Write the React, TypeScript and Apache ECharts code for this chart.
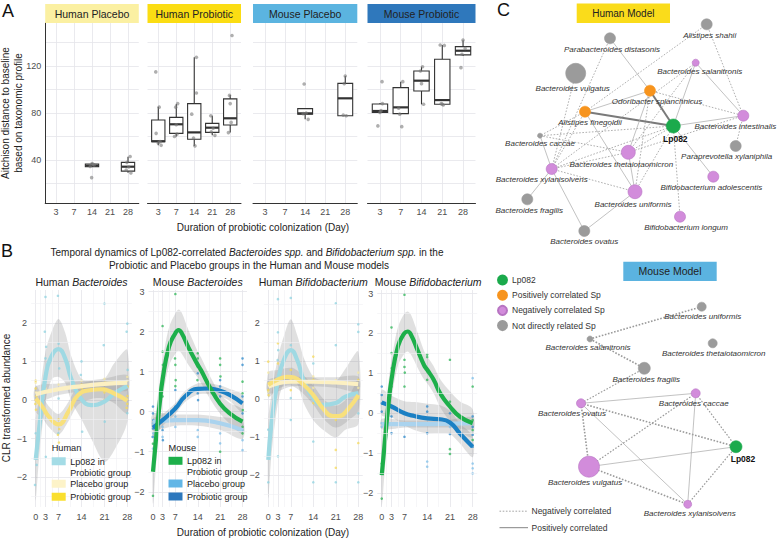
import React, { useEffect, useRef } from 'react';
import * as echarts from 'echarts';

const FONT = '"Liberation Sans", Arial, Helvetica, sans-serif';
const TXT = '#222';
const TICK = '#4D4D4D';
const GRIDC = '#E4E4EA';
const MINORC = '#F0F0F4';

// ================= Panel A data =================
const dayLabelsA = ['3', '7', '14', '21', '28'];
const facetsA = ['Human Placebo', 'Human Probiotic', 'Mouse Placebo', 'Mouse Probiotic'];
// [dayIndex, min, q1, median, q3, max]
const boxesHumanPlacebo = [
  [2, 34.0, 34.3, 35.2, 36.6, 37.5],
  [4, 29.2, 30.5, 34.3, 38.0, 42.8],
];
const boxesHumanProbiotic = [
  [0, 52.5, 55.6, 56.0, 74.0, 85.4],
  [1, 60.0, 62.7, 70.4, 76.3, 87.7],
  [2, 52.0, 57.6, 63.5, 88.0, 127.4],
  [3, 61.0, 63.5, 67.5, 71.2, 77.7],
  [4, 63.3, 69.8, 75.5, 92.0, 95.3],
];
const boxesMousePlacebo = [
  [2, 74.6, 78.9, 79.7, 83.7, 83.7],
  [4, 77.7, 77.7, 92.5, 105.2, 111.5],
];
const boxesMouseProbiotic = [
  [0, 79.7, 80.5, 81.7, 87.7, 88.5],
  [1, 78.9, 79.5, 84.8, 101.6, 106.7],
  [2, 87.4, 98.7, 107.5, 115.7, 119.4],
  [3, 86.8, 87.5, 91.0, 125.7, 137.9],
  [4, 128.5, 129.5, 133.0, 136.5, 142.0],
];
// jittered observations [dayIndex + jitter, distance]
const ptsHumanPlacebo = [[2.0, 37.0], [2.12, 35.8], [1.9, 34.6], [2.06, 36.4], [1.98, 25.0], [4.12, 43.0], [3.94, 38.0], [4.04, 34.0], [3.9, 31.5], [4.16, 29.0]];
const ptsHumanProbiotic = [[-0.14, 115], [0.05, 85], [-0.12, 62.7], [0.1, 55.6], [0.16, 52.5], [0.0, 54.5], [1.08, 88], [0.97, 85], [1.04, 62], [0.9, 60], [1.0, 70], [2.12, 127.4], [2.12, 97], [1.86, 79], [1.96, 58.7], [2.04, 52], [2.92, 77.7], [3.05, 67], [3.15, 61], [2.95, 64], [4.1, 146], [3.96, 95], [4.0, 88], [3.9, 63.3], [4.05, 72]];
const ptsMousePlacebo = [[1.95, 104.7], [2.05, 80], [2.15, 74.6], [1.9, 79.5], [4.0, 111.5], [3.95, 105], [4.05, 77.7], [3.9, 78.2]];
const ptsMouseProbiotic = [[0.1, 106.7], [-0.1, 69], [0.05, 82], [0.0, 80.5], [0.12, 88], [1.1, 106.7], [1.05, 68.4], [0.95, 79], [0.9, 84], [2.05, 119.4], [1.95, 115.7], [2.1, 87.4], [2.0, 105], [2.9, 137.9], [3.1, 137.5], [3.05, 86.8], [2.95, 88], [3.0, 87.5], [4.0, 142], [3.9, 118.6], [4.1, 135], [3.95, 130]];
const boxesA = [boxesHumanPlacebo, boxesHumanProbiotic, boxesMousePlacebo, boxesMouseProbiotic];
const ptsA = [ptsHumanPlacebo, ptsHumanProbiotic, ptsMousePlacebo, ptsMouseProbiotic];

// ================= Panel B data =================
const dayTicksB = [0, 3, 7, 14, 21, 28];
const dayMinorB = [1.5, 5, 10.5, 17.5, 24.5];
const clrMinorB = [-2.5, -1.5, -0.5, 0.5, 1.5, 2.5];
// Human Bacteroides
const hbLpDays = [0, 1, 3, 5, 7, 9, 11, 14, 17, 21, 24, 28];
const hbLpMid = [-1.55, -0.78, 0.6, 1.16, 1.32, 1.08, 0.52, 0.02, -0.13, -0.04, 0.17, 0.36];
const hbLpLo = [-2.6, -1.55, -0.05, 0.55, 0.6, 0.45, -0.05, -0.5, -1.0, -1.6, -1.3, -0.55];
const hbLpHi = [-0.5, 0.0, 1.25, 1.8, 2.1, 1.75, 1.1, 0.55, 0.5, 0.55, 0.95, 1.3];
const hbPlDays = [0, 7, 14, 21, 28];
const hbPlMid = [0.15, 0.28, 0.36, 0.42, 0.45];
const hbPlLo = [-0.05, 0.13, 0.23, 0.28, 0.25];
const hbPlHi = [0.35, 0.43, 0.49, 0.56, 0.65];
const hbPrDays = [0, 2, 4, 7, 10, 13, 17, 20, 24, 28];
const hbPrMid = [0.04, -0.17, -0.43, -0.63, -0.3, 0.13, 0.26, 0.28, 0.17, -0.02];
const hbPrLo = [-0.3, -0.45, -0.7, -0.9, -0.55, -0.12, 0.03, 0.05, -0.08, -0.35];
const hbPrHi = [0.38, 0.11, -0.16, -0.36, -0.05, 0.38, 0.49, 0.51, 0.42, 0.31];
const hbLpPts = [[0, -0.86], [0.3, -1.68], [-0.2, -2.2], [3, 2.67], [2.8, 1.77], [3.2, 1.38], [3, 1.08], [2.9, 0.52], [3.1, -1.47], [6.8, 2.7], [7, 1.46], [7.2, 0.82], [7, 0.04], [6.9, -0.86], [14, 1.0], [13.8, 0.65], [14.2, -0.82], [21, 2.5], [20.8, 1.42], [21.1, -0.56], [28, 1.98], [27.8, 1.77], [28.1, 0.78], [28, -0.34]];
const hbPrPts = [[0, 0.3], [0.2, 0.1], [-0.1, -0.1], [0.1, -0.25], [0, 0.5], [7, -0.5], [6.8, -0.9], [7.1, -1.1], [7.2, -0.75], [14, 0.4], [13.8, 0.1], [14.1, 0.3], [21, 0.2], [21.2, 0.45], [20.9, 0.3], [21, 0], [28, 0.1], [27.8, -0.2], [28.1, 0.35], [28, -0.1]];
const hbPlPts = [[0, 0.45], [0.1, 0.2], [3, 0.3], [7, 0.4], [14, 0.5], [21, 0.55], [28, 0.6], [28, 0.5]];
// Mouse Bacteroides
const mbLpDays = [0, 1, 2, 3, 5, 7, 8, 9, 11, 14, 15, 18, 21, 24, 28];
const mbLpMid = [-1.5, -0.63, 0.13, 0.8, 1.62, 1.96, 2.04, 1.96, 1.62, 1.17, 1.04, 0.58, 0.2, -0.04, -0.25];
const mbLpLo = [-2.3, -1.3, -0.45, 0.3, 1.15, 1.45, 1.52, 1.45, 1.18, 0.85, 0.72, 0.3, -0.05, -0.3, -0.55];
const mbLpHi = [-0.7, 0.05, 0.7, 1.3, 2.1, 2.45, 2.55, 2.47, 2.06, 1.5, 1.36, 0.86, 0.45, 0.22, 0.05];
const mbPrDays = [0, 3, 7, 10, 14, 17, 21, 24, 28];
const mbPrMid = [-0.4, -0.21, 0.08, 0.38, 0.57, 0.58, 0.52, 0.42, 0.21];
const mbPrLo = [-0.62, -0.36, -0.06, 0.24, 0.43, 0.44, 0.38, 0.27, -0.01];
const mbPrHi = [-0.18, -0.06, 0.22, 0.52, 0.71, 0.72, 0.66, 0.57, 0.43];
const mbPlDays = [0, 7, 14, 21, 28];
const mbPlMid = [-0.25, -0.21, -0.21, -0.29, -0.46];
const mbPlLo = [-0.45, -0.35, -0.35, -0.45, -0.68];
const mbPlHi = [-0.05, -0.07, -0.07, -0.13, -0.24];
const mbLpPts = [[7, 2.94], [3, 2.14], [3, 1.5], [3.1, 1.17], [6.9, 1.33], [7, 1.17], [7.1, 0.79], [7, 0.64], [14, 1.46], [14, 1.33], [14.1, 1.13], [13.9, 0.79], [21, 1.33], [21, 1.17], [21.1, 0.88], [21, 0.54], [21, -1.0], [28, 0.75], [28, 0.46], [28.1, 0.04], [28, -0.38], [28, -0.54], [0, -2.1], [0.1, -1.38], [3, 0.38], [0, -0.8]];
const mbPrPts = [[0, 0.13], [0, -0.04], [0.1, -0.21], [0, -0.42], [-0.1, -0.63], [3, -0.21], [3, -0.46], [3.1, -0.71], [7, 0.54], [7, 0.13], [14, 1.2], [14, 0.96], [14, 0.46], [14.1, 0.29], [21, 0.79], [21, 0.63], [21, 0.38], [28, 1.33], [28, 1.17], [28, 0.38], [28, -0.04]];
const mbPlPts = [[0, -0.29], [0.1, -0.54], [0, -0.92], [3, -0.38], [3, -0.63], [7, -0.12], [7, -0.38], [14, -0.21], [14, -0.46], [14, -0.63], [21, -0.29], [21, -0.54], [21, -0.79], [28, -0.46], [28, -0.71], [28, -0.96]];
// Human Bifidobacterium
const hfLpDays = [0, 1, 3, 5, 7, 9, 11, 14, 17, 21, 24, 28];
const hfLpMid = [-1.59, -0.63, 0.5, 1.07, 1.29, 1.03, 0.5, 0.03, -0.15, -0.1, 0.07, 0.16];
const hfLpLo = [-2.6, -1.45, -0.1, 0.45, 0.5, 0.4, -0.1, -0.55, -0.8, -1.0, -0.8, -0.65];
const hfLpHi = [-0.55, 0.15, 1.1, 1.7, 2.1, 1.68, 1.1, 0.6, 0.5, 0.48, 0.8, 1.25];
const hfPlDays = [0, 7, 14, 21, 28];
const hfPlMid = [0.33, 0.46, 0.46, 0.44, 0.4];
const hfPlLo = [0.15, 0.33, 0.34, 0.3, 0.2];
const hfPlHi = [0.51, 0.59, 0.58, 0.58, 0.6];
const hfPrDays = [0, 3, 6, 8, 11, 14, 17, 20, 22, 25, 28];
const hfPrMid = [0.38, 0.52, 0.59, 0.57, 0.38, 0.11, -0.24, -0.44, -0.44, -0.24, 0.11];
const hfPrLo = [0.05, 0.27, 0.36, 0.33, 0.14, -0.14, -0.5, -0.72, -0.73, -0.55, -0.3];
const hfPrHi = [0.71, 0.77, 0.82, 0.81, 0.62, 0.36, 0.02, -0.16, -0.15, 0.07, 0.52];
const hfLpPts = [[3, 2.63], [7, 2.66], [21, 2.52], [28, 1.97], [28, 1.77], [3, 1.76], [3.1, 1.29], [21, 1.42], [7, 1.42], [14, 0.94], [2.9, 1.03], [7, 0.03], [7, -0.54], [14, -1.11], [21, -2.18], [14, -2.18], [28, -2.18], [28, -0.37], [3, -1.5], [0, -2.18], [0, -0.8]];
const hfPrPts = [[0, 0.99], [0, 0.24], [0.1, 0.11], [3, 1.47], [3, 0.94], [3.1, 0.59], [7, 0.77], [7, 0.51], [7, 0.24], [14, 1.12], [14, 0.51], [14, -0.1], [21, -0.54], [21, -1.33], [21, -1.8], [28, -1.15], [28, 0.03], [28, 0.51]];
const hfPlPts = [[0, 0.7], [0, 0.2], [3, 0.4], [7, 0.5], [14, 0.6], [14, 0.3], [21, 0.5], [28, 0.3], [28, 0.7]];
// Mouse Bifidobacterium
const mfLpDays = [0, 1, 2, 3, 5, 7, 8, 9, 11, 13, 14, 16, 18, 21, 24, 28];
const mfLpMid = [-1.55, -0.67, 0.17, 0.84, 1.68, 2.01, 2.05, 1.97, 1.59, 1.21, 1.09, 0.84, 0.5, 0.17, -0.08, -0.25];
const mfLpLo = [-2.35, -1.35, -0.4, 0.35, 1.2, 1.5, 1.55, 1.47, 1.15, 0.85, 0.75, 0.5, 0.15, -0.2, -0.45, -0.6];
const mfLpHi = [-0.75, 0.0, 0.74, 1.33, 2.16, 2.5, 2.55, 2.47, 2.03, 1.57, 1.43, 1.18, 0.85, 0.55, 0.3, 0.1];
const mfPrDays = [0, 3, 7, 10, 14, 18, 21, 24, 28];
const mfPrMid = [0.27, 0.17, 0, -0.07, -0.13, -0.15, -0.23, -0.5, -0.84];
const mfPrLo = [-0.05, -0.1, -0.3, -0.42, -0.5, -0.5, -0.52, -0.75, -1.1];
const mfPrHi = [0.59, 0.44, 0.3, 0.28, 0.24, 0.2, 0.06, -0.25, -0.58];
const mfPlDays = [0, 7, 14, 21, 28];
const mfPlMid = [-0.27, -0.27, -0.27, -0.26, -0.25];
const mfPlLo = [-0.4, -0.36, -0.36, -0.36, -0.4];
const mfPlHi = [-0.14, -0.18, -0.18, -0.16, -0.1];
const mfLpPts = [[7, 2.97], [3, 2.15], [3, 1.51], [3.1, 1.13], [7, 1.34], [7, 1.16], [7.1, 1.02], [7, 0.67], [14, 1.47], [14, 1.41], [14, 0.84], [21, 1.34], [21, 0.29], [21, 0.17], [21, -0.9], [21, -1.02], [28, 0.67], [28, -0.17], [28, -0.42], [28, -0.67], [0, -2.14], [0, -1.26], [3, 0.67]];
const mfPrPts = [[0, 0.67], [0, 0.46], [0, 0.25], [0, 0.04], [3, 0.17], [3, -0.08], [3, -0.5], [7, 0], [7, -0.25], [7, -0.59], [14, 0.17], [14, 0.04], [14, -0.5], [21, 0], [21, -0.25], [21, -0.52], [28, -0.08], [28, -0.34], [28, -0.54], [28, -0.84]];
const mfPlPts = [[0, -0.25], [0, -0.34], [3, -0.25], [7, -0.29], [14, -1.21], [14, -1.34], [21, -0.34], [28, -1.26], [28, -1.38], [28, -1.51], [28, 0.88]];

// ================= Panel C data =================
const nodeTypes = ['Lp082', 'Positively correlated Sp', 'Negatively correlated Sp', 'Not directly related Sp'];
const humanNodeNames = ['Alistipes shahii', 'Parabacteroides distasonis', 'Bacteroides vulgatus', 'Bacteroides salanitronis', 'Odoribacter splanchnicus', 'Alistipes finegoldii', 'Lp082', 'Bacteroides intestinalis', 'Bacteroides caccae', 'Paraprevotella xylaniphila', 'Bacteroides thetaiotaomicron', 'Bacteroides xylanisolvens', 'Bifidobacterium adolescentis', 'Bacteroides uniformis', 'Bacteroides fragilis', 'Bifidobacterium longum', 'Bacteroides ovatus'];
const humanNodeType = [3, 3, 3, 2, 1, 1, 0, 2, 3, 3, 2, 2, 2, 2, 3, 2, 3];
const humanNodeAbund = [11, 11, 20, 7, 11, 11, 14, 11, 5, 11, 14, 11, 11, 14, 11, 11, 11];
// [source, target, sign(+1/-1), strength]
const humanEdges: [string, string, number, number][] = [
  ['Alistipes finegoldii', 'Lp082', 1, 2],
  ['Odoribacter splanchnicus', 'Lp082', 1, 2],
  ['Alistipes shahii', 'Alistipes finegoldii', -1, 0.8],
  ['Alistipes shahii', 'Bacteroides intestinalis', -1, 0.8],
  ['Parabacteroides distasonis', 'Odoribacter splanchnicus', 1, 0.7],
  ['Parabacteroides distasonis', 'Bacteroides xylanisolvens', -1, 0.8],
  ['Bacteroides vulgatus', 'Bacteroides xylanisolvens', -1, 0.8],
  ['Bacteroides salanitronis', 'Lp082', 1, 0.7],
  ['Bacteroides salanitronis', 'Bacteroides intestinalis', 1, 0.7],
  ['Bacteroides salanitronis', 'Bacteroides thetaiotaomicron', -1, 0.8],
  ['Bacteroides salanitronis', 'Bacteroides xylanisolvens', -1, 0.8],
  ['Odoribacter splanchnicus', 'Alistipes finegoldii', 1, 0.7],
  ['Odoribacter splanchnicus', 'Bacteroides intestinalis', -1, 0.8],
  ['Odoribacter splanchnicus', 'Bacteroides thetaiotaomicron', 1, 0.7],
  ['Odoribacter splanchnicus', 'Bacteroides uniformis', -1, 0.8],
  ['Alistipes finegoldii', 'Bacteroides caccae', -1, 0.8],
  ['Alistipes finegoldii', 'Bacteroides xylanisolvens', -1, 0.8],
  ['Alistipes finegoldii', 'Bacteroides uniformis', 1, 0.7],
  ['Lp082', 'Bacteroides intestinalis', 1, 0.7],
  ['Lp082', 'Bacteroides thetaiotaomicron', -1, 0.8],
  ['Lp082', 'Bacteroides uniformis', -1, 0.8],
  ['Lp082', 'Bacteroides xylanisolvens', -1, 0.8],
  ['Lp082', 'Bifidobacterium longum', -1, 0.8],
  ['Lp082', 'Bacteroides caccae', -1, 0.8],
  ['Lp082', 'Bifidobacterium adolescentis', 1, 0.7],
  ['Bacteroides intestinalis', 'Paraprevotella xylaniphila', -1, 0.8],
  ['Bacteroides intestinalis', 'Bacteroides thetaiotaomicron', -1, 0.8],
  ['Bacteroides caccae', 'Bacteroides thetaiotaomicron', -1, 0.8],
  ['Bacteroides caccae', 'Bacteroides xylanisolvens', 1, 0.7],
  ['Bacteroides thetaiotaomicron', 'Bacteroides xylanisolvens', -1, 0.8],
  ['Bacteroides thetaiotaomicron', 'Bacteroides uniformis', 1, 0.7],
  ['Bacteroides xylanisolvens', 'Bacteroides uniformis', -1, 0.8],
  ['Bacteroides xylanisolvens', 'Bacteroides fragilis', 1, 0.7],
  ['Bacteroides xylanisolvens', 'Bacteroides ovatus', 1, 0.7],
  ['Bacteroides uniformis', 'Bacteroides ovatus', 1, 0.7],
];
const mouseNodeNames = ['Bacteroides uniformis', 'Bacteroides salanitronis', 'Bacteroides thetaiotaomicron', 'Bacteroides fragilis', 'Bacteroides caccae', 'Bacteroides ovatus', 'Lp082', 'Bacteroides vulgatus', 'Bacteroides xylanisolvens'];
const mouseNodeType = [3, 3, 3, 3, 2, 2, 0, 2, 2];
const mouseNodeAbund = [9, 6, 9, 12, 9, 9, 12, 21, 8];
const mouseEdges: [string, string, number, number][] = [
  ['Bacteroides uniformis', 'Bacteroides salanitronis', -1, 1.6],
  ['Bacteroides salanitronis', 'Bacteroides fragilis', -1, 1.6],
  ['Bacteroides fragilis', 'Bacteroides ovatus', -1, 1.1],
  ['Bacteroides ovatus', 'Bacteroides caccae', 1, 0.7],
  ['Bacteroides ovatus', 'Lp082', -1, 1.6],
  ['Bacteroides ovatus', 'Bacteroides vulgatus', -1, 1.6],
  ['Bacteroides ovatus', 'Bacteroides xylanisolvens', 1, 0.7],
  ['Bacteroides caccae', 'Bacteroides vulgatus', -1, 1.2],
  ['Bacteroides caccae', 'Lp082', -1, 1.2],
  ['Bacteroides caccae', 'Bacteroides xylanisolvens', 1, 0.7],
  ['Bacteroides vulgatus', 'Lp082', 1, 0.7],
  ['Bacteroides vulgatus', 'Bacteroides xylanisolvens', -1, 1.6],
  ['Bacteroides xylanisolvens', 'Lp082', -1, 1.2],
];

// ================= layout (not data) =================
const A_X = [[45.2, 138.8], [147.5, 241], [253, 357.3], [367.5, 475.5]];
const A_TOP = 23, A_H = 180;
const B_X = [[31.1, 131.9], [148.5, 247], [263.8, 362.8], [377.2, 477.2]];
const B_TOP = 290, B_H = 217;
const B_YR = [[-2.77, 2.85], [-2.38, 3.04], [-2.83, 2.87], [-2.35, 3.09]];
const STRIP_A = ['#FBF0A2', '#FBDD13', '#5BB4E0', '#2F78BC'];
const NODE_COL = ['#1BAA4C', '#F7941E', '#D28CDB', '#9B9B9B'];
const humanLayout = [[706.7, 24.3], [610, 38.3], [575.7, 73.3], [695.7, 62.7], [650, 90.7], [585, 111.7], [673.3, 126], [743.3, 115.7], [540, 135.7], [735.7, 146], [628.3, 152.3], [551.7, 169], [713.3, 176.7], [635, 191.7], [527.3, 199.3], [680, 216.7], [584.3, 231]];
const humanLabelDx = [3, 2, -3, 4, 7, 5, 2, -8, 0, -9, -7, -10, -2, -2, 2, 6, 0];
const mouseLayout = [[701.7, 306.7], [590, 339], [712.7, 343.3], [644.3, 368.3], [695.7, 393.3], [581, 403.3], [736, 446.7], [589, 466.7], [687.7, 504.3]];
const mouseLabelDx = [1, -2, 1, 2, -2, -9, 7, -4, 2];

const minus = (v: number) => (v < 0 ? '\u2212' + Math.abs(v) : String(v));

function renderBox(params: any, api: any) {
  const x = api.value(0);
  const lo = api.coord([x, api.value(1)]);
  const q1 = api.coord([x, api.value(2)]);
  const md = api.coord([x, api.value(3)]);
  const q3 = api.coord([x, api.value(4)]);
  const hi = api.coord([x, api.value(5)]);
  const hw = api.size([1, 0])[0] * 0.37;
  const st = { stroke: '#333', lineWidth: 1.1, fill: null };
  return {
    type: 'group',
    children: [
      { type: 'line', shape: { x1: lo[0], y1: lo[1], x2: q1[0], y2: q1[1] }, style: st },
      { type: 'line', shape: { x1: q3[0], y1: q3[1], x2: hi[0], y2: hi[1] }, style: st },
      { type: 'rect', shape: { x: q1[0] - hw, y: q3[1], width: 2 * hw, height: q1[1] - q3[1] }, style: { stroke: '#333', lineWidth: 1.1, fill: '#fff' } },
      { type: 'line', shape: { x1: md[0] - hw, y1: md[1], x2: md[0] + hw, y2: md[1] }, style: { stroke: '#333', lineWidth: 2.2 } },
    ],
  };
}

// confidence ribbon: one smoothed polygon built from all rows [day, lo, hi]
function makeRibbonRender(rows: number[][]) {
  return (params: any, api: any) => {
    if (params.dataIndex !== 0) return null;
    const top = rows.map((r) => api.coord([r[0], r[2]]));
    const bot = rows.map((r) => api.coord([r[0], r[1]])).reverse();
    return {
      type: 'polygon',
      shape: { points: top.concat(bot), smooth: 0.3 },
      style: { fill: '#8C8C8C', opacity: 0.27 },
    };
  };
}

function buildOption() {
  const grid: any[] = [];
  const xAxis: any[] = [];
  const yAxis: any[] = [];
  const series: any[] = [];
  const graphic: any[] = [];

  // ---------- Panel A ----------
  A_X.forEach(([l, r], i) => {
    grid.push({ left: l, top: A_TOP, width: r - l, height: A_H, containLabel: false });
    xAxis.push({
      type: 'value', gridIndex: i, min: -0.6, max: 4.6,
      axisLine: { show: true, onZero: false, lineStyle: { color: '#333', width: 1 } },
      axisTick: { show: false, customValues: [0, 1, 2, 3, 4] },
      axisLabel: { customValues: [0, 1, 2, 3, 4], formatter: (v: number) => dayLabelsA[Math.round(v)], fontSize: 9, color: TICK, margin: 4, fontFamily: FONT },
      splitLine: { show: true, lineStyle: { color: GRIDC, width: 0.8 } },
    });
    yAxis.push({
      type: 'value', gridIndex: i, min: 3.4, max: 156.6, minInterval: 20, maxInterval: 20,
      axisLine: { show: i === 0, onZero: false, lineStyle: { color: '#333', width: 1 } },
      axisTick: { show: false },
      axisLabel: { show: i === 0, formatter: (v: number) => (Math.abs(v % 40) < 1e-6 && v > 0 ? String(v) : ''), fontSize: 9, color: TICK, margin: 4, fontFamily: FONT },
      splitLine: { show: true, showMinLine: false, showMaxLine: false, lineStyle: { color: GRIDC, width: 0.8 } },
    });
    series.push({
      type: 'custom', name: facetsA[i] + ' box', xAxisIndex: i, yAxisIndex: i,
      renderItem: renderBox, data: boxesA[i], encode: { x: 0, y: [1, 2, 3, 4, 5] }, silent: true, z: 2,
    });
    series.push({
      type: 'scatter', name: facetsA[i] + ' samples', xAxisIndex: i, yAxisIndex: i, data: ptsA[i],
      symbolSize: 3.6, itemStyle: { color: '#7A7A7A', opacity: 0.6 }, silent: true, z: 3,
    });
    graphic.push({ type: 'rect', shape: { x: l, y: 4, width: r - l, height: 19 }, style: { fill: STRIP_A[i] } });
    graphic.push({ type: 'text', x: (l + r) / 2, y: 13.5, style: { text: facetsA[i], fontSize: 10.5, fontFamily: FONT, fill: TXT, align: 'center', verticalAlign: 'middle' } });
  });

  // ---------- Panel B ----------
  const groupsB: any[][] = [
    [
      { days: hbLpDays, mid: hbLpMid, lo: hbLpLo, hi: hbLpHi, pts: hbLpPts, line: '#9FD9E3', pt: '#8FD3E0' },
      { days: hbPlDays, mid: hbPlMid, lo: hbPlLo, hi: hbPlHi, pts: hbPlPts, line: '#FCF0C2', pt: '#F6E9A8' },
      { days: hbPrDays, mid: hbPrMid, lo: hbPrLo, hi: hbPrHi, pts: hbPrPts, line: '#F8E07C', pt: '#F5DA5A' },
    ],
    [
      { days: mbPlDays, mid: mbPlMid, lo: mbPlLo, hi: mbPlHi, pts: mbPlPts, line: '#AAD3EE', pt: '#7DBFE8' },
      { days: mbPrDays, mid: mbPrMid, lo: mbPrLo, hi: mbPrHi, pts: mbPrPts, line: '#1B80C4', pt: '#2D8ACB' },
      { days: mbLpDays, mid: mbLpMid, lo: mbLpLo, hi: mbLpHi, pts: mbLpPts, line: '#1DAF4A', pt: '#2DB557' },
    ],
    [
      { days: hfLpDays, mid: hfLpMid, lo: hfLpLo, hi: hfLpHi, pts: hfLpPts, line: '#9FD9E3', pt: '#8FD3E0' },
      { days: hfPlDays, mid: hfPlMid, lo: hfPlLo, hi: hfPlHi, pts: hfPlPts, line: '#FCF0C2', pt: '#F6E9A8' },
      { days: hfPrDays, mid: hfPrMid, lo: hfPrLo, hi: hfPrHi, pts: hfPrPts, line: '#F8E07C', pt: '#F5DA5A' },
    ],
    [
      { days: mfPlDays, mid: mfPlMid, lo: mfPlLo, hi: mfPlHi, pts: mfPlPts, line: '#AAD3EE', pt: '#7DBFE8' },
      { days: mfPrDays, mid: mfPrMid, lo: mfPrLo, hi: mfPrHi, pts: mfPrPts, line: '#1B80C4', pt: '#2D8ACB' },
      { days: mfLpDays, mid: mfLpMid, lo: mfLpLo, hi: mfLpHi, pts: mfLpPts, line: '#1DAF4A', pt: '#2DB557' },
    ],
  ];
  const facetTitlesB = [
    'Human {i|Bacteroides}', 'Mouse {i|Bacteroides}', 'Human {i|Bifidobacterium}', 'Mouse {i|Bifidobacterium}',
  ];
  B_X.forEach(([l, r], f) => {
    const gi = 4 + f;
    grid.push({ left: l, top: B_TOP, width: r - l, height: B_H, containLabel: false });
    xAxis.push({
      type: 'value', gridIndex: gi, min: -1.4, max: 29.4,
      axisLine: { show: false, onZero: false },
      axisTick: { show: false, customValues: dayTicksB },
      axisLabel: { customValues: dayTicksB, fontSize: 9, color: TICK, margin: 5, fontFamily: FONT },
      splitLine: { show: true, lineStyle: { color: GRIDC, width: 0.8 } },
    });
    yAxis.push({
      type: 'value', gridIndex: gi, min: B_YR[f][0], max: B_YR[f][1], minInterval: 1, maxInterval: 1,
      axisLine: { show: false, onZero: false }, axisTick: { show: false },
      axisLabel: { formatter: (v: number) => (Math.abs(v - Math.round(v)) < 1e-6 ? minus(Math.round(v)) : ''), fontSize: 9, color: TICK, margin: 4, fontFamily: FONT, showMinLabel: false, showMaxLabel: false },
      splitLine: { show: true, showMinLine: false, showMaxLine: false, lineStyle: { color: GRIDC, width: 0.8 } },
    });
    // minor grid lines (ggplot minor breaks), drawn through the axes
    const [y0, y1] = B_YR[f];
    series.push({
      type: 'line', xAxisIndex: gi, yAxisIndex: gi, data: [], silent: true, z: 0,
      markLine: {
        silent: true, symbol: ['none', 'none'], label: { show: false }, animation: false,
        lineStyle: { color: MINORC, width: 0.6, type: 'solid' }, emphasis: { disabled: true },
        data: [
          ...dayMinorB.map((d) => ({ xAxis: d })),
          ...clrMinorB.filter((v) => v > y0 && v < y1).map((v) => ({ yAxis: v })),
        ],
      },
    });
    groupsB[f].forEach((g) => {
      const rows = g.days.map((d: number, j: number) => [d, g.lo[j], g.hi[j]]);
      series.push({
        type: 'custom', xAxisIndex: gi, yAxisIndex: gi, data: rows, encode: { x: 0, y: [1, 2] },
        renderItem: makeRibbonRender(rows), clip: true, silent: true, z: 1,
      });
    });
    groupsB[f].forEach((g) => {
      series.push({
        type: 'scatter', xAxisIndex: gi, yAxisIndex: gi, data: g.pts, symbolSize: 2.6,
        itemStyle: { color: g.pt, opacity: 0.75 }, silent: true, z: 2,
      });
    });
    groupsB[f].forEach((g) => {
      series.push({
        type: 'line', xAxisIndex: gi, yAxisIndex: gi, data: g.days.map((d: number, j: number) => [d, g.mid[j]]),
        smooth: true, symbol: 'none', showSymbol: false, lineStyle: { color: g.line, width: 4.2 }, silent: true, z: 3,
      });
    });
    graphic.push({
      type: 'text', x: (l + r) / 2 + (f === 3 ? 1 : 0), y: 282,
      style: { text: facetTitlesB[f], rich: { i: { fontStyle: 'italic', fontSize: 10.5, fontFamily: FONT, fill: TXT } }, fontSize: 10.5, fontFamily: FONT, fill: TXT, align: 'center', verticalAlign: 'middle' },
    });
  });

  // ---------- Panel C (networks on a hidden pixel-scaled grid) ----------
  grid.push({ left: 0, top: 0, width: 777, height: 539, containLabel: false });
  xAxis.push({ type: 'value', gridIndex: 8, min: 0, max: 777, show: false });
  yAxis.push({ type: 'value', gridIndex: 8, min: 0, max: 539, inverse: true, show: false });
  const cats = nodeTypes.map((n, i) => ({ name: n, itemStyle: { color: NODE_COL[i], borderColor: i === 2 ? '#B774C2' : NODE_COL[i], borderWidth: 0.6 } }));
  const mkNodes = (names: string[], types: number[], abund: number[], lay: number[][], dx: number[]) =>
    names.map((n, i) => ({
      name: n, value: lay[i], category: types[i], symbolSize: abund[i],
      label: n === 'Lp082'
        ? { offset: [dx[i], 0], fontStyle: 'normal', fontWeight: 'bold', color: '#111', fontSize: 8.5 }
        : { offset: [dx[i], 0] },
    }));
  const mkLinks = (edges: [string, string, number, number][]) =>
    edges.map(([s, t, sign, w]) => ({
      source: s, target: t,
      lineStyle: sign > 0
        ? { type: 'solid', width: w, color: w > 1.5 ? '#7A7A7A' : '#A8A8A8', opacity: 1 }
        : { type: [1.6, 1.6], width: w, color: '#9A9A9A', opacity: 1 },
    }));
  const graphBase = {
    type: 'graph', layout: 'none', coordinateSystem: 'cartesian2d', xAxisIndex: 8, yAxisIndex: 8,
    categories: cats, symbol: 'circle', silent: true, z: 5, roam: false,
    label: { show: true, position: 'bottom', distance: 1, fontSize: 8, fontStyle: 'italic', color: '#333', fontFamily: FONT },
    lineStyle: { color: '#999', opacity: 1, width: 0.8, curveness: 0 },
    emphasis: { disabled: true },
  };
  series.push({ ...graphBase, name: 'Human Model', data: mkNodes(humanNodeNames, humanNodeType, humanNodeAbund, humanLayout, humanLabelDx), links: mkLinks(humanEdges) });
  series.push({ ...graphBase, name: 'Mouse Model', data: mkNodes(mouseNodeNames, mouseNodeType, mouseNodeAbund, mouseLayout, mouseLabelDx), links: mkLinks(mouseEdges) });

  // ---------- decorations ----------
  const letter = (t: string, x: number, y: number) => ({ type: 'text', x, y, style: { text: t, fontSize: 18, fontFamily: FONT, fill: '#111', align: 'left', verticalAlign: 'middle' } });
  graphic.push(letter('A', 2, 11), letter('B', 1, 251), letter('C', 497, 10));
  graphic.push({ type: 'text', x: 11.5, y: 113, rotation: Math.PI / 2, style: { text: 'Aitchison distance to baseline\nbased on taxonomic profile', fontSize: 10, lineHeight: 13, fontFamily: FONT, fill: TXT, align: 'center', verticalAlign: 'middle' } });
  graphic.push({ type: 'text', x: 263, y: 227, style: { text: 'Duration of probiotic colonization (Day)', fontSize: 10, fontFamily: FONT, fill: TXT, align: 'center', verticalAlign: 'middle' } });
  graphic.push({ type: 'text', x: 247, y: 252, style: { text: 'Temporal dynamics of Lp082-correlated {i|Bacteroides spp.} and {i|Bifidobacterium spp.} in the', rich: { i: { fontStyle: 'italic', fontSize: 10, fontFamily: FONT, fill: TXT } }, fontSize: 10, fontFamily: FONT, fill: TXT, align: 'center', verticalAlign: 'middle' } });
  graphic.push({ type: 'text', x: 249, y: 265, style: { text: 'Probiotic and Placebo groups in the Human and Mouse models', fontSize: 10, fontFamily: FONT, fill: TXT, align: 'center', verticalAlign: 'middle' } });
  graphic.push({ type: 'text', x: 6, y: 398, rotation: Math.PI / 2, style: { text: 'CLR transformed abundance', fontSize: 10, fontFamily: FONT, fill: TXT, align: 'center', verticalAlign: 'middle' } });
  graphic.push({ type: 'text', x: 263, y: 532.5, style: { text: 'Duration of probiotic colonization (Day)', fontSize: 10, fontFamily: FONT, fill: TXT, align: 'center', verticalAlign: 'middle' } });

  // B legends
  const legB = (x: number, title: string, cols: string[], ys: number[]) => {
    graphic.push({ type: 'text', x, y: 448.3, style: { text: title, fontSize: 9.2, fontFamily: FONT, fill: TXT, align: 'left', verticalAlign: 'middle' } });
    cols.forEach((c, i) => graphic.push({ type: 'rect', shape: { x, y: ys[i] - 4, width: 14, height: 8 }, style: { fill: c } }));
    const tx = x + 18.5;
    const labels: [string, number][] = [['Lp082 in', ys[0] + 0.5], ['Probiotic group', ys[0] + 11.5], ['Placebo group', ys[1]], ['Probiotic group', ys[2]]];
    labels.forEach(([t, y]) => graphic.push({ type: 'text', x: tx, y, style: { text: t, fontSize: 9, fontFamily: FONT, fill: TXT, align: 'left', verticalAlign: 'middle' } }));
  };
  legB(51.7, 'Human', ['#A4DCE6', '#FDF3C8', '#FADF2E'], [461.3, 483.8, 496.7]);
  legB(168.5, 'Mouse', ['#1DAF4A', '#62B6E6', '#2D78BD'], [460.8, 483.5, 496.5]);

  // C strips
  graphic.push({ type: 'rect', shape: { x: 576.7, y: 3.5, width: 93.3, height: 19.5 }, style: { fill: '#FADC1B' } });
  graphic.push({ type: 'text', x: 623.3, y: 13.3, style: { text: 'Human Model', fontSize: 10, fontFamily: FONT, fill: TXT, align: 'center', verticalAlign: 'middle' } });
  graphic.push({ type: 'rect', shape: { x: 623.3, y: 261.7, width: 93.4, height: 19.3 }, style: { fill: '#5BB3E0' } });
  graphic.push({ type: 'text', x: 670, y: 271.3, style: { text: 'Mouse Model', fontSize: 10.5, fontFamily: FONT, fill: TXT, align: 'center', verticalAlign: 'middle' } });
  // edge legend
  graphic.push({ type: 'line', shape: { x1: 499.5, y1: 511.2, x2: 528, y2: 511.2 }, style: { stroke: '#9A9A9A', lineWidth: 0.9, lineDash: [1.6, 1.6] } });
  graphic.push({ type: 'text', x: 531.5, y: 511.2, style: { text: 'Negatively correlated', fontSize: 8.5, fontFamily: FONT, fill: '#333', align: 'left', verticalAlign: 'middle' } });
  graphic.push({ type: 'line', shape: { x1: 499.5, y1: 527.7, x2: 528, y2: 527.7 }, style: { stroke: '#777', lineWidth: 0.9 } });
  graphic.push({ type: 'text', x: 531.5, y: 527.7, style: { text: 'Positively correlated', fontSize: 8.5, fontFamily: FONT, fill: '#333', align: 'left', verticalAlign: 'middle' } });

  return {
    animation: false,
    backgroundColor: '#fff',
    textStyle: { fontFamily: FONT },
    grid, xAxis, yAxis, series,
    legend: {
      data: nodeTypes, left: 497, top: 274.5, orient: 'vertical', itemWidth: 9, itemHeight: 9, itemGap: 4.2,
      icon: 'circle', selectedMode: false, padding: 0,
      textStyle: { fontSize: 8.5, color: '#333', fontFamily: FONT },
    },
    graphic: { elements: graphic.map((g) => ({ ...g, silent: true, z: 100 })) },
  };
}

export default function App() {
  const ref = useRef<HTMLDivElement>(null);
  useEffect(() => {
    if (!ref.current) return;
    const chart = echarts.init(ref.current, null, { renderer: 'svg' });
    chart.setOption(buildOption() as any);
    return () => chart.dispose();
  }, []);
  return <div ref={ref} style={{ position: 'absolute', left: 0, top: 0, width: 777, height: 539, background: '#fff' }} />;
}
